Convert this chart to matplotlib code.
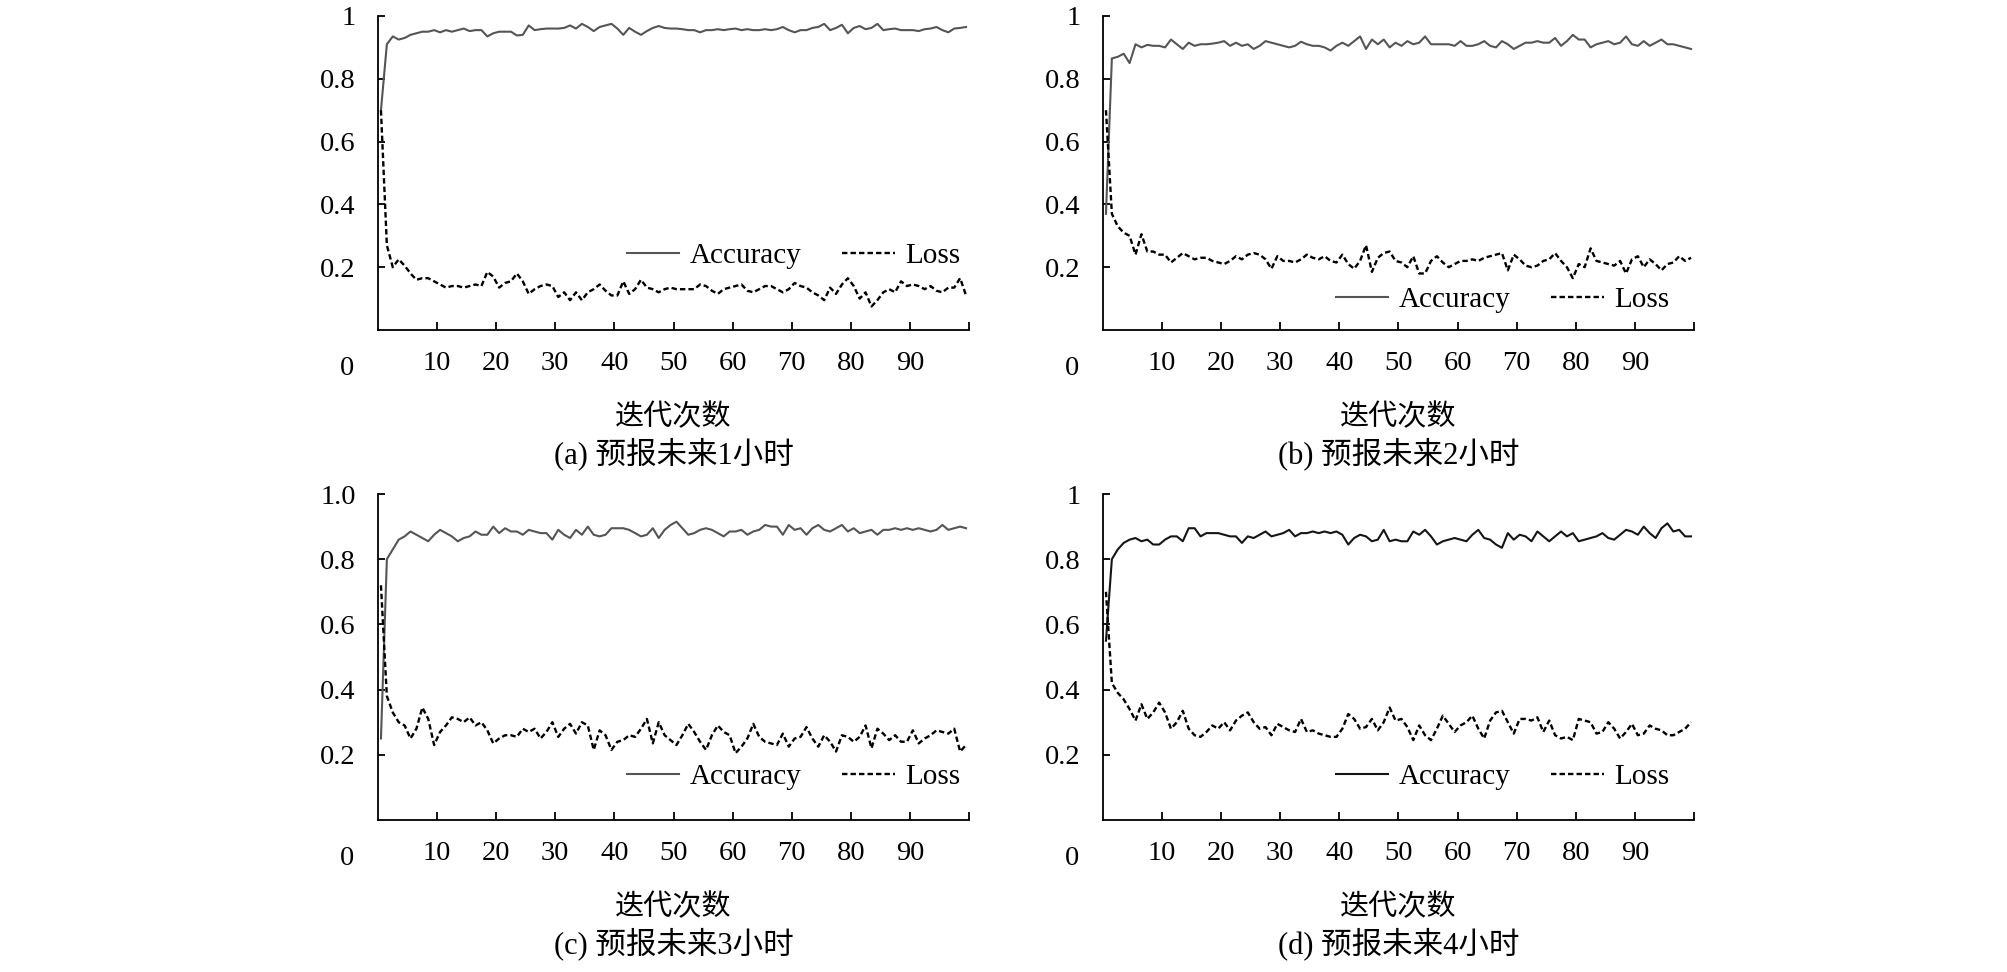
import numpy as np
import matplotlib
matplotlib.use("Agg")
import matplotlib.pyplot as plt

plt.rcParams['font.family'] = ['Liberation Serif', 'Noto Sans CJK SC', 'DejaVu Sans']

# epoch index (100 points, drawn at category centres)
epochs = np.arange(100) + 0.5

acc_a = [0.70, 0.91, 0.935, 0.925, 0.93, 0.94, 0.945, 0.95, 0.95, 0.955,
         0.948, 0.955, 0.95, 0.955, 0.96, 0.952, 0.955, 0.955, 0.935, 0.945,
         0.95, 0.95, 0.95, 0.938, 0.94, 0.97, 0.955, 0.958, 0.96, 0.96,
         0.96, 0.962, 0.97, 0.96, 0.975, 0.965, 0.952, 0.965, 0.97, 0.975,
         0.96, 0.94, 0.962, 0.95, 0.94, 0.952, 0.962, 0.968, 0.962, 0.96,
         0.96, 0.958, 0.955, 0.955, 0.948, 0.955, 0.955, 0.958, 0.955, 0.958,
         0.96, 0.955, 0.958, 0.955, 0.955, 0.958, 0.955, 0.958, 0.965, 0.955,
         0.948, 0.955, 0.955, 0.962, 0.965, 0.975, 0.955, 0.962, 0.972, 0.945,
         0.962, 0.968, 0.958, 0.962, 0.975, 0.955, 0.958, 0.96, 0.955, 0.955,
         0.955, 0.952, 0.958, 0.96, 0.965, 0.955, 0.948, 0.96, 0.962, 0.965]
loss_a = [0.70, 0.27, 0.20, 0.225, 0.205, 0.18, 0.16, 0.165, 0.165, 0.155,
          0.145, 0.135, 0.14, 0.14, 0.135, 0.14, 0.145, 0.14, 0.185, 0.17,
          0.135, 0.15, 0.155, 0.18, 0.155, 0.115, 0.13, 0.14, 0.145, 0.14,
          0.105, 0.12, 0.095, 0.12, 0.095, 0.12, 0.13, 0.145, 0.125, 0.11,
          0.11, 0.155, 0.115, 0.13, 0.16, 0.135, 0.13, 0.12, 0.13, 0.135,
          0.13, 0.13, 0.13, 0.13, 0.145, 0.14, 0.125, 0.115, 0.13, 0.135,
          0.14, 0.145, 0.125, 0.12, 0.13, 0.14, 0.14, 0.13, 0.12, 0.13,
          0.15, 0.14, 0.135, 0.12, 0.11, 0.095, 0.135, 0.115, 0.145, 0.165,
          0.14, 0.10, 0.12, 0.075, 0.095, 0.12, 0.13, 0.12, 0.155, 0.14,
          0.145, 0.14, 0.13, 0.14, 0.125, 0.12, 0.135, 0.135, 0.165, 0.11]

acc_b = [0.37, 0.865, 0.87, 0.88, 0.85, 0.91, 0.9, 0.908, 0.905, 0.905,
         0.9, 0.925, 0.91, 0.895, 0.915, 0.905, 0.91, 0.91, 0.912, 0.915,
         0.92, 0.905, 0.915, 0.905, 0.91, 0.895, 0.905, 0.92, 0.915, 0.91,
         0.905, 0.9, 0.905, 0.918, 0.91, 0.905, 0.905, 0.9, 0.89, 0.905,
         0.915, 0.905, 0.92, 0.935, 0.895, 0.925, 0.91, 0.925, 0.9, 0.915,
         0.905, 0.92, 0.91, 0.915, 0.935, 0.91, 0.91, 0.91, 0.91, 0.905,
         0.92, 0.905, 0.905, 0.91, 0.92, 0.905, 0.9, 0.92, 0.91, 0.895,
         0.905, 0.915, 0.915, 0.92, 0.915, 0.915, 0.93, 0.905, 0.92, 0.94,
         0.925, 0.925, 0.9, 0.91, 0.915, 0.92, 0.91, 0.915, 0.935, 0.91,
         0.905, 0.92, 0.905, 0.915, 0.925, 0.91, 0.91, 0.905, 0.9, 0.895]
loss_b = [0.70, 0.37, 0.33, 0.31, 0.30, 0.24, 0.305, 0.25, 0.25, 0.24,
          0.24, 0.215, 0.23, 0.245, 0.235, 0.225, 0.23, 0.23, 0.22, 0.215,
          0.21, 0.22, 0.235, 0.225, 0.24, 0.245, 0.24, 0.225, 0.195, 0.235,
          0.22, 0.22, 0.215, 0.225, 0.24, 0.23, 0.225, 0.235, 0.22, 0.215,
          0.24, 0.21, 0.195, 0.22, 0.27, 0.185, 0.23, 0.245, 0.25, 0.22,
          0.215, 0.2, 0.235, 0.18, 0.18, 0.22, 0.235, 0.215, 0.2, 0.21,
          0.22, 0.22, 0.225, 0.22, 0.23, 0.235, 0.24, 0.245, 0.19, 0.24,
          0.225, 0.205, 0.2, 0.205, 0.22, 0.225, 0.245, 0.22, 0.2, 0.165,
          0.21, 0.2, 0.26, 0.22, 0.215, 0.21, 0.205, 0.22, 0.18, 0.225,
          0.235, 0.2, 0.225, 0.21, 0.19, 0.21, 0.215, 0.235, 0.22, 0.23]

acc_c = [0.25, 0.80, 0.83, 0.86, 0.87, 0.885, 0.875, 0.865, 0.855, 0.875,
         0.89, 0.88, 0.87, 0.855, 0.865, 0.87, 0.885, 0.875, 0.875, 0.9,
         0.88, 0.895, 0.885, 0.885, 0.875, 0.89, 0.885, 0.88, 0.88, 0.86,
         0.89, 0.875, 0.865, 0.89, 0.875, 0.9, 0.875, 0.87, 0.875, 0.895,
         0.895, 0.895, 0.89, 0.88, 0.87, 0.875, 0.895, 0.865, 0.89, 0.905,
         0.915, 0.895, 0.875, 0.88, 0.89, 0.895, 0.89, 0.88, 0.87, 0.885,
         0.885, 0.89, 0.875, 0.885, 0.89, 0.905, 0.9, 0.9, 0.875, 0.905,
         0.89, 0.895, 0.875, 0.895, 0.905, 0.89, 0.885, 0.895, 0.905, 0.885,
         0.895, 0.88, 0.885, 0.89, 0.875, 0.89, 0.89, 0.895, 0.89, 0.895,
         0.89, 0.895, 0.89, 0.885, 0.89, 0.905, 0.89, 0.895, 0.9, 0.895]
loss_c = [0.72, 0.38, 0.33, 0.30, 0.29, 0.25, 0.28, 0.345, 0.31, 0.23,
          0.27, 0.29, 0.315, 0.31, 0.30, 0.315, 0.29, 0.30, 0.275, 0.235,
          0.25, 0.26, 0.26, 0.255, 0.28, 0.27, 0.28, 0.25, 0.27, 0.30,
          0.255, 0.28, 0.295, 0.265, 0.30, 0.29, 0.215, 0.275, 0.26, 0.215,
          0.24, 0.245, 0.26, 0.255, 0.28, 0.31, 0.235, 0.30, 0.26, 0.245,
          0.23, 0.26, 0.295, 0.27, 0.24, 0.215, 0.26, 0.29, 0.27, 0.26,
          0.205, 0.225, 0.25, 0.295, 0.255, 0.24, 0.235, 0.23, 0.265, 0.225,
          0.25, 0.255, 0.285, 0.25, 0.225, 0.26, 0.24, 0.21, 0.26, 0.255,
          0.24, 0.255, 0.29, 0.22, 0.28, 0.265, 0.245, 0.26, 0.24, 0.24,
          0.275, 0.235, 0.25, 0.26, 0.275, 0.27, 0.265, 0.28, 0.21, 0.23]

acc_d = [0.55, 0.80, 0.83, 0.85, 0.86, 0.865, 0.855, 0.86, 0.845, 0.845,
         0.86, 0.87, 0.87, 0.855, 0.895, 0.895, 0.87, 0.88, 0.88, 0.88,
         0.875, 0.87, 0.87, 0.85, 0.87, 0.865, 0.875, 0.885, 0.87, 0.875,
         0.88, 0.89, 0.87, 0.88, 0.88, 0.885, 0.88, 0.885, 0.88, 0.885,
         0.875, 0.845, 0.865, 0.875, 0.87, 0.855, 0.86, 0.89, 0.855, 0.86,
         0.855, 0.855, 0.885, 0.875, 0.89, 0.87, 0.845, 0.855, 0.86, 0.865,
         0.86, 0.855, 0.875, 0.89, 0.865, 0.86, 0.845, 0.835, 0.88, 0.86,
         0.875, 0.87, 0.855, 0.885, 0.87, 0.855, 0.87, 0.885, 0.87, 0.88,
         0.855, 0.86, 0.865, 0.87, 0.88, 0.865, 0.86, 0.875, 0.89, 0.885,
         0.875, 0.9, 0.88, 0.865, 0.895, 0.91, 0.885, 0.89, 0.87, 0.87]
loss_d = [0.70, 0.42, 0.39, 0.37, 0.34, 0.305, 0.355, 0.31, 0.33, 0.36,
          0.33, 0.28, 0.30, 0.335, 0.28, 0.26, 0.255, 0.27, 0.29, 0.28,
          0.30, 0.275, 0.305, 0.32, 0.33, 0.30, 0.28, 0.285, 0.26, 0.295,
          0.285, 0.275, 0.27, 0.31, 0.27, 0.275, 0.265, 0.26, 0.255, 0.255,
          0.28, 0.325, 0.31, 0.28, 0.285, 0.31, 0.275, 0.30, 0.345, 0.305,
          0.31, 0.285, 0.245, 0.29, 0.26, 0.245, 0.28, 0.32, 0.295, 0.27,
          0.29, 0.30, 0.32, 0.28, 0.25, 0.305, 0.33, 0.335, 0.30, 0.265,
          0.31, 0.31, 0.305, 0.315, 0.27, 0.305, 0.26, 0.25, 0.255, 0.245,
          0.31, 0.305, 0.30, 0.265, 0.27, 0.30, 0.28, 0.25, 0.27, 0.295,
          0.26, 0.265, 0.29, 0.28, 0.275, 0.26, 0.26, 0.27, 0.28, 0.30]

captions = ['(a) 预报未来1小时', '(b) 预报未来2小时', '(c) 预报未来3小时', '(d) 预报未来4小时']
xlabel = '迭代次数'
x_ticks = [10, 20, 30, 40, 50, 60, 70, 80, 90, 100]
x_ticklabels = ['10', '20', '30', '40', '50', '60', '70', '80', '90', '']
y_ticks = [0.2, 0.4, 0.6, 0.8, 1.0]
y_labels_std = ['0.2', '0.4', '0.6', '0.8', '1']
y_labels_c = ['0.2', '0.4', '0.6', '0.8', '1.0']

W, H = 2008, 972
fig = plt.figure(figsize=(W / 100, H / 100), dpi=100)

# panel geometry in pixels: left, right, top, bottom
boxes = [(378, 969, 16, 330), (1103, 1694, 16, 330),
         (378, 969, 494, 820), (1103, 1694, 494, 820)]
legend_pos = [(0.985, 0.236), (0.958, 0.096), (0.985, 0.132), (0.958, 0.132)]

series = [(acc_a, loss_a), (acc_b, loss_b), (acc_c, loss_c), (acc_d, loss_d)]
acc_colors = ['#555555', '#555555', '#555555', '#151515']
FS = 20.5

for k, (l, r, t, b) in enumerate(boxes):
    ax = fig.add_axes([l / W, 1 - b / H, (r - l) / W, (b - t) / H])
    acc, loss = series[k]
    ax.plot(epochs, acc, color=acc_colors[k], lw=1.5, label='Accuracy')
    ax.plot(epochs, loss, color='black', lw=1.7, linestyle=(0, (2.3, 1.3)), label='Loss')
    ax.set_xlim(0, 100)
    ax.set_ylim(0, 1)
    for s in ['top', 'right']:
        ax.spines[s].set_visible(False)
    for s in ['left', 'bottom']:
        ax.spines[s].set_linewidth(1.3)
    ax.set_xticks(x_ticks)
    ax.set_xticklabels(x_ticklabels)
    ax.set_yticks(y_ticks)
    ax.set_yticklabels(y_labels_c if k == 2 else y_labels_std)
    ax.tick_params(axis='x', direction='in', length=6, width=1.3, pad=15, labelsize=FS)
    ax.tick_params(axis='y', direction='in', length=5, width=1.3, pad=16, labelsize=FS)
    ax.annotate('0', xy=(0, 0), xycoords='axes fraction', xytext=(-22, -28),
                textcoords='offset points', ha='center', va='center', fontsize=FS)
    ax.legend(ncol=2, frameon=False, loc='center right',
              bbox_to_anchor=legend_pos[k], borderaxespad=0, borderpad=0,
              handlelength=1.8, handletextpad=0.35, columnspacing=1.4,
              fontsize=21)
    cx = (l + r) / 2 / W
    fig.text(cx, 1 - (b + 87) / H, xlabel, ha='center', va='center', fontsize=21)
    fig.text(cx, 1 - (b + 124) / H, captions[k], ha='center', va='center',
             fontsize=22)

fig.savefig('out.png', dpi=100)
